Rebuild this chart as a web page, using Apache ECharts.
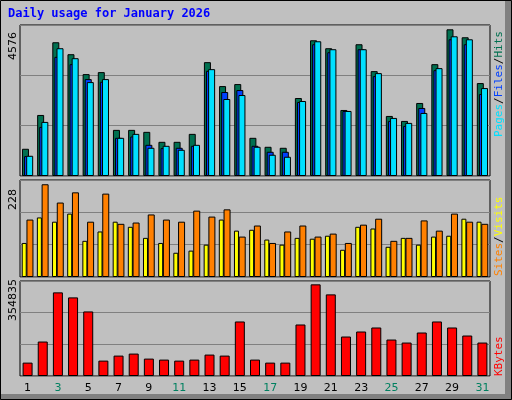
<!DOCTYPE html>
<html><head><meta charset="utf-8">
<script src="https://cdn.jsdelivr.net/npm/echarts@6/dist/echarts.min.js"></script>
<style>html,body{margin:0;padding:0;background:#c0c0c0}#c{width:512px;height:400px}</style>
</head><body><div id="c"></div>
<script>
const days = ['1','2','3','4','5','6','7','8','9','10','11','12','13','14','15','16','17','18','19','20','21','22','23','24','25','26','27','28','29','30','31'];
const weekend = [3,4,10,11,17,18,24,25,31];
const hits = [825,1850,4053,3691,3088,3148,1398,1398,1338,1036,1036,1277,3450,2725,2786,1157,885,855,2363,4113,3872,2001,3993,3178,1820,1669,2213,3389,4445,4204,2816];
const files = [603,1488,3611,3389,2937,2856,1157,1197,945,845,855,915,3188,2545,2605,915,734,734,2243,3993,3751,1971,3842,3027,1669,1519,2062,3208,4143,3993,2484];
const pages = [613,1639,3872,3570,2846,2937,1157,1277,855,915,795,945,3238,2333,2454,885,644,583,2273,4083,3842,1971,3842,3118,1760,1609,1911,3269,4234,4143,2665];
const visits = [80,140,130,149,85,107,130,118,92,80,57,62,76,135,109,111,88,76,92,90,97,64,118,114,71,92,76,95,97,137,130];
const sites = [135,218,175,199,130,196,125,128,147,135,130,156,142,159,95,121,80,107,121,95,102,80,123,137,85,92,133,109,149,130,125];
const kbytes = [49977,128690,312355,293614,241138,57474,76214,83710,64969,61221,57474,61221,79962,76214,203656,61221,49977,49977,192412,342340,304857,147430,166172,181165,136186,124942,162424,203656,181165,151178,124942];
const maxTop = 4576, maxMid = 228, maxBot = 354835;

const chart = echarts.init(document.getElementById('c'));
const grids = [{top:25,height:151},{top:180,height:97},{top:281,height:95}];
const b = {color:'#000',width:1};
function xa(i){return {type:'category',gridIndex:i,data:days,boundaryGap:true,
  axisLine:{show:false},axisTick:{show:false},
  axisLabel:{show:i===2,margin:7,fontFamily:'DejaVu Sans',fontSize:11,
    color:(v)=>weekend.includes(+v)?'#008060':'#000'}}}
function ya(i,m){return {type:'value',gridIndex:i,min:0,max:m,interval:m/3,
  axisLabel:{show:false},axisLine:{show:false},axisTick:{show:false},
  splitLine:{lineStyle:{color:'#808080',width:1}}}}
const bs = {borderColor:'#000',borderWidth:1};
chart.setOption({
  animation:false,
  grid:grids.map(g=>({left:20,right:22,top:g.top,height:g.height,show:true,borderColor:'#000',borderWidth:1,backgroundColor:'#c0c0c0'})),
  xAxis:[xa(0),xa(1),xa(2)],
  yAxis:[ya(0,maxTop),ya(1,maxMid),ya(2,maxBot)],
  series:[
    {type:'bar',xAxisIndex:0,yAxisIndex:0,data:hits,barWidth:7,barGap:'-70%',itemStyle:{color:'#007050',...bs}},
    {type:'bar',xAxisIndex:0,yAxisIndex:0,data:files,barWidth:7,barGap:'-70%',itemStyle:{color:'#0040ff',...bs}},
    {type:'bar',xAxisIndex:0,yAxisIndex:0,data:pages,barWidth:7,barGap:'-70%',itemStyle:{color:'#00e0ff',...bs}},
    {type:'bar',xAxisIndex:1,yAxisIndex:1,data:visits,barWidth:5,barGap:'-5%',itemStyle:{color:'#ffff00',...bs}},
    {type:'bar',xAxisIndex:1,yAxisIndex:1,data:sites,barWidth:7,barGap:'-5%',itemStyle:{color:'#ff8000',...bs}},
    {type:'bar',xAxisIndex:2,yAxisIndex:2,data:kbytes,barWidth:10,itemStyle:{color:'#ff0000',...bs}}
  ],
  graphic:[
    {type:'rect',z:-10,shape:{x:0,y:0,width:512,height:400},style:{fill:'#c0c0c0'}},
    {type:'rect',z:-9,shape:{x:505,y:0,width:7,height:400},style:{fill:'#808080'}},
    {type:'rect',z:-9,shape:{x:0,y:394,width:512,height:6},style:{fill:'#808080'}},
    {type:'rect',z:-8,shape:{x:0.5,y:0.5,width:511,height:399},style:{fill:'none',stroke:'#000',lineWidth:1}},
    {type:'text',left:8,top:8,style:{text:'Daily usage for January 2026',font:'bold 12px "DejaVu Sans Mono"',fill:'#0000ff'}},
    {type:'text',x:8,y:60,rotation:Math.PI/2,style:{text:'4576',font:'11px "DejaVu Sans"',fill:'#000'}},
    {type:'text',x:8,y:210,rotation:Math.PI/2,style:{text:'228',font:'11px "DejaVu Sans"',fill:'#000'}},
    {type:'text',x:8,y:321,rotation:Math.PI/2,style:{text:'354835',font:'11px "DejaVu Sans"',fill:'#000'}},
    {type:'text',x:494,y:137,rotation:Math.PI/2,style:{
      text:'{p|Pages}{s|/}{f|Files}{s|/}{h|Hits}',font:'11px "DejaVu Sans Mono"',
      rich:{p:{fill:'#00e0ff',font:'11px "DejaVu Sans Mono"'},f:{fill:'#0040ff',font:'11px "DejaVu Sans Mono"'},h:{fill:'#007050',font:'11px "DejaVu Sans Mono"'},s:{fill:'#000',font:'11px "DejaVu Sans Mono"'}}}},
    {type:'text',x:494,y:276,rotation:Math.PI/2,style:{
      text:'{a|Sites}{s|/}{b|Visits}',font:'11px "DejaVu Sans Mono"',
      rich:{a:{fill:'#ff8000',font:'11px "DejaVu Sans Mono"'},b:{fill:'#ffff00',font:'11px "DejaVu Sans Mono"'},s:{fill:'#000',font:'11px "DejaVu Sans Mono"'}}}},
    {type:'text',x:494,y:376,rotation:Math.PI/2,style:{text:'KBytes',font:'11px "DejaVu Sans Mono"',fill:'#ff0000'}}
  ]
});
</script></body></html>
